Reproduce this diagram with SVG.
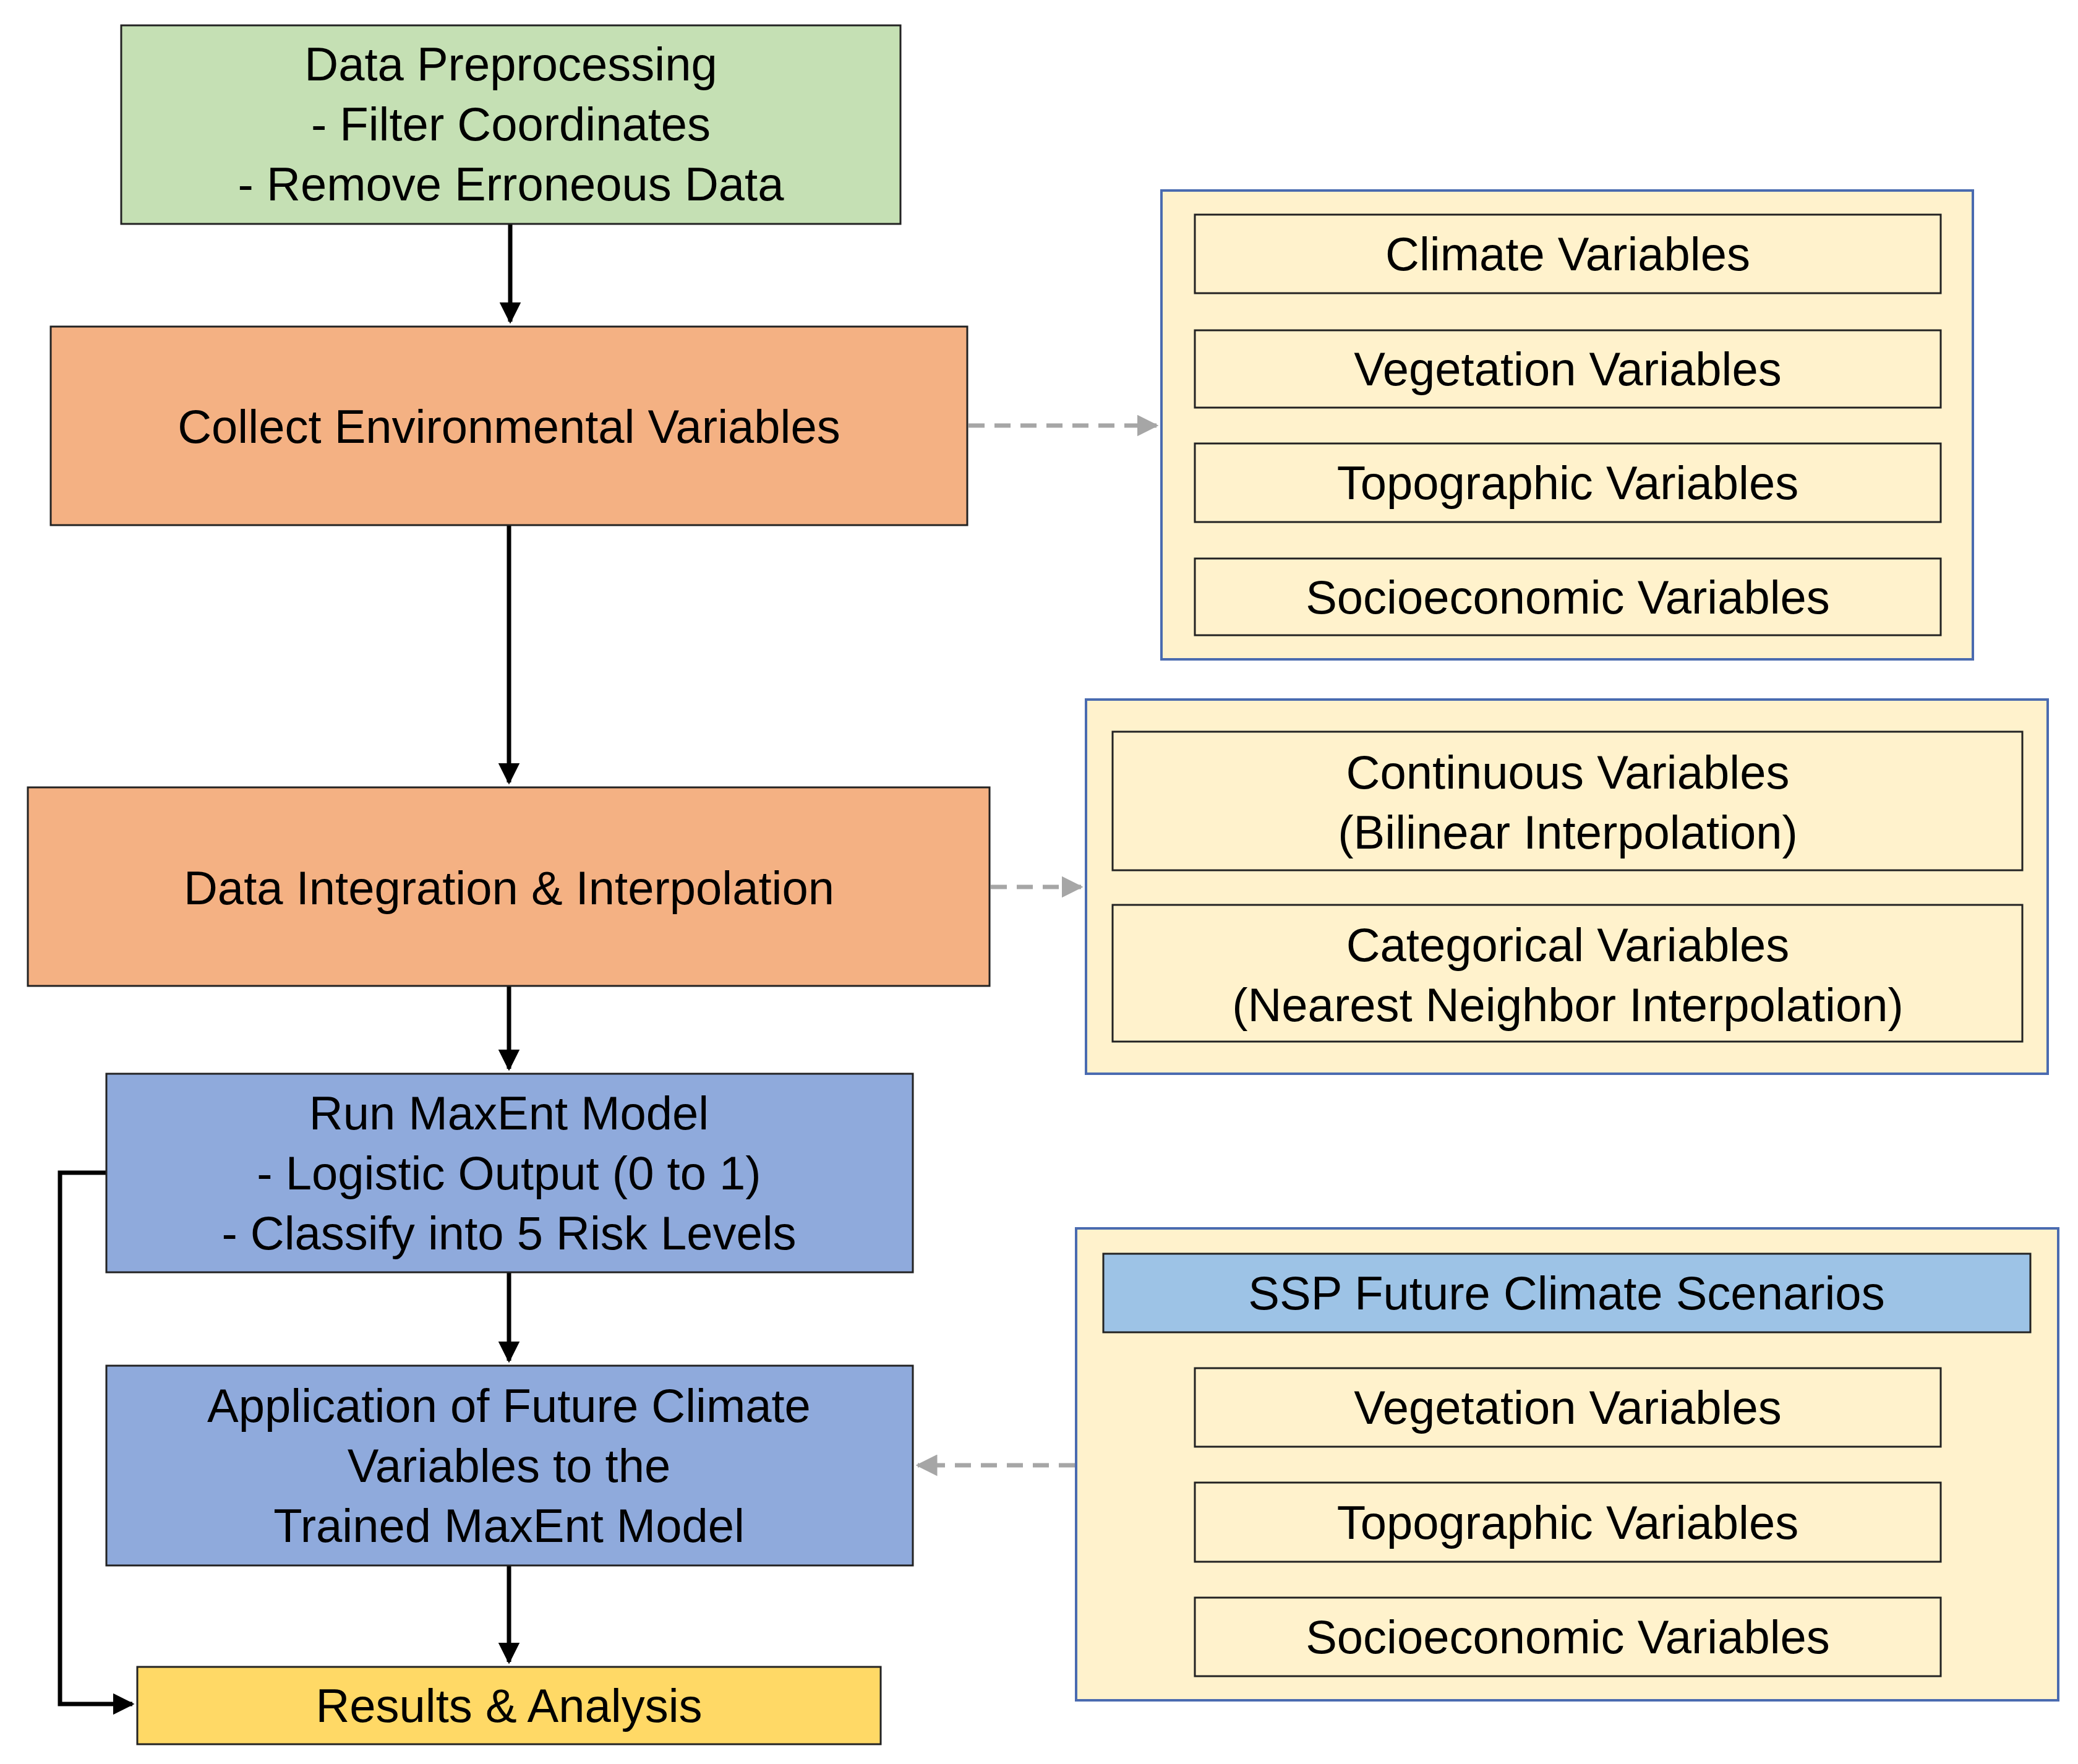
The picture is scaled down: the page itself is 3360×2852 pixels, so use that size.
<svg xmlns="http://www.w3.org/2000/svg" width="3360" height="2852" viewBox="0 0 3360 2852">
<style>
text{font-family:"Liberation Sans",Arial,sans-serif;font-size:76px;fill:#000;text-anchor:middle}
.b{stroke:#222;stroke-width:3}
.p{fill:#fff2cc;stroke:#4a6bb0;stroke-width:4}
.i{fill:#fff2cc;stroke:#222;stroke-width:3}
.f{fill:none;stroke:#000;stroke-width:7}
.d{fill:none;stroke:#a6a6a6;stroke-width:7;stroke-dasharray:26 16}
</style>
<defs>
<marker id="ab" viewBox="0 0 10 10" refX="9" refY="5" markerWidth="5" markerHeight="5" orient="auto" markerUnits="strokeWidth"><path d="M0 0L10 5L0 10z" fill="#000"/></marker>
<marker id="ag" viewBox="0 0 10 10" refX="9" refY="5" markerWidth="5" markerHeight="5" orient="auto" markerUnits="strokeWidth"><path d="M0 0L10 5L0 10z" fill="#a6a6a6"/></marker>
</defs>
<rect width="3360" height="2852" fill="#fff"/>
<g id="connectors">
<path class="f" d="M825 362V520" marker-end="url(#ab)"/>
<path class="f" d="M823 849V1265" marker-end="url(#ab)"/>
<path class="f" d="M823 1594V1728" marker-end="url(#ab)"/>
<path class="f" d="M823 2057V2200" marker-end="url(#ab)"/>
<path class="f" d="M823 2531V2687" marker-end="url(#ab)"/>
<path class="f" d="M172 1896H97V2755H214" marker-end="url(#ab)"/>
<path class="d" d="M1566 688H1870" marker-end="url(#ag)"/>
<path class="d" d="M1602 1434H1748" marker-end="url(#ag)"/>
<path class="d" d="M1738 2369H1484" marker-end="url(#ag)"/>
</g>
<g id="preprocessing"><rect class="b" x="196" y="41" width="1260" height="321" fill="#c5e0b4"/>
<text x="826" y="130">Data Preprocessing</text><text x="826" y="227">- Filter Coordinates</text><text x="826" y="324">- Remove Erroneous Data</text></g>
<g id="collect"><rect class="b" x="82" y="528" width="1482" height="321" fill="#f4b183"/>
<text x="823" y="716">Collect Environmental Variables</text></g>
<g id="integration"><rect class="b" x="45" y="1273" width="1555" height="321" fill="#f4b183"/>
<text x="823" y="1462">Data Integration &amp; Interpolation</text></g>
<g id="maxent"><rect class="b" x="172" y="1736" width="1304" height="321" fill="#8faadc"/>
<text x="823" y="1826">Run MaxEnt Model</text><text x="823" y="1923">- Logistic Output (0 to 1)</text><text x="823" y="2020">- Classify into 5 Risk Levels</text></g>
<g id="application"><rect class="b" x="172" y="2208" width="1304" height="323" fill="#8faadc"/>
<text x="823" y="2299">Application of Future Climate</text><text x="823" y="2396">Variables to the</text><text x="823" y="2493">Trained MaxEnt Model</text></g>
<g id="results"><rect class="b" x="222" y="2695" width="1202" height="125" fill="#ffd966"/>
<text x="823" y="2784">Results &amp; Analysis</text></g>
<g id="env-vars"><rect class="p" x="1878" y="308" width="1312" height="758"/>
<rect class="i" x="1932" y="347" width="1206" height="127"/><text x="2535" y="437">Climate Variables</text>
<rect class="i" x="1932" y="534" width="1206" height="125"/><text x="2535" y="623">Vegetation Variables</text>
<rect class="i" x="1932" y="717" width="1206" height="127"/><text x="2535" y="807">Topographic Variables</text>
<rect class="i" x="1932" y="903" width="1206" height="124"/><text x="2535" y="992">Socioeconomic Variables</text></g>
<g id="interp-vars"><rect class="p" x="1756" y="1131" width="1555" height="605"/>
<rect class="i" x="1799" y="1183" width="1471" height="224"/><text x="2535" y="1275">Continuous Variables</text><text x="2535" y="1372">(Bilinear Interpolation)</text>
<rect class="i" x="1799" y="1463" width="1471" height="221"/><text x="2535" y="1554">Categorical Variables</text><text x="2535" y="1651">(Nearest Neighbor Interpolation)</text></g>
<g id="ssp"><rect class="p" x="1740" y="1986" width="1588" height="763"/>
<rect x="1784" y="2027" width="1499" height="127" fill="#9dc3e6" stroke="#222" stroke-width="3"/><text x="2533" y="2117">SSP Future Climate Scenarios</text>
<rect class="i" x="1932" y="2212" width="1206" height="127"/><text x="2535" y="2302">Vegetation Variables</text>
<rect class="i" x="1932" y="2397" width="1206" height="128"/><text x="2535" y="2488">Topographic Variables</text>
<rect class="i" x="1932" y="2583" width="1206" height="127"/><text x="2535" y="2673">Socioeconomic Variables</text></g>
</svg>
